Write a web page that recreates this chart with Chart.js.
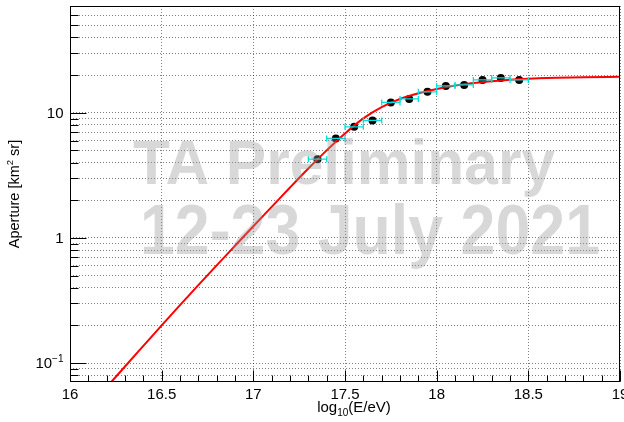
<!DOCTYPE html>
<html>
<head>
<meta charset="utf-8">
<script src="https://cdn.jsdelivr.net/npm/chart.js@4/dist/chart.umd.min.js"></script>
<style>
  html, body { margin: 0; padding: 0; background: #fff; }
  #wrap { width: 624px; height: 422px; }
</style>
</head>
<body>
<div id="wrap"><canvas id="aperture" width="624" height="422"></canvas></div>
<script>
// measured aperture points (log10 E, km^2 sr) with half bin width
const energy    = [17.35, 17.45, 17.55, 17.65, 17.75, 17.85, 17.95, 18.05, 18.15, 18.25, 18.35, 18.45];
const aperture  = [4.26, 6.24, 7.73, 8.69, 12.1, 12.9, 14.7, 16.4, 16.7, 18.3, 19.0, 18.3];
const energyErr = [0.05, 0.05, 0.05, 0.05, 0.05, 0.05, 0.05, 0.05, 0.05, 0.05, 0.05, 0.05];

// fit curve
const fitEnergy   = [16.2, 16.3, 16.4, 16.5, 16.6, 16.7, 16.8, 16.9, 17.0, 17.1, 17.2, 17.3, 17.4, 17.5,
                     17.6, 17.7, 17.8, 17.9, 18.0, 18.1, 18.2, 18.3, 18.4, 18.5, 18.6, 18.8, 19.0];
const fitAperture = [0.0641, 0.0938, 0.137, 0.200, 0.290, 0.419, 0.603, 0.865, 1.24, 1.77, 2.53, 3.59, 5.01, 6.84,
                     9.02, 11.1, 12.9, 14.3, 15.5, 16.5, 17.3, 17.9, 18.4, 18.75, 19.0, 19.2, 19.4];

// axes
const xMin = 16, xMax = 19;
const yMin = 0.0705, yMax = 71.4;
const xMajorTicks = [16, 16.5, 17, 17.5, 18, 18.5, 19];
const xTickLabels = ['16', '16.5', '17', '17.5', '18', '18.5', '19'];
const xMinorTicks = [16.1, 16.2, 16.3, 16.4, 16.6, 16.7, 16.8, 16.9, 17.1, 17.2, 17.3, 17.4, 17.6, 17.7, 17.8, 17.9,
                     18.1, 18.2, 18.3, 18.4, 18.6, 18.7, 18.8, 18.9];
const yMajorTicks = [0.1, 1, 10];
const yTickBase   = ['10', '1', '10'];
const yTickExp    = ['\u22121', '', ''];
const yGridTicks  = [0.08, 0.09, 0.1, 0.2, 0.3, 0.4, 0.5, 0.6, 0.7, 0.8, 0.9,
                     1, 2, 3, 4, 5, 6, 7, 8, 9, 10, 20, 30, 40, 50, 60];
const watermark   = ['TA Preliminary', '12-23 July 2021'];

const FONT = '"Liberation Sans", Arial, Helvetica, sans-serif';

// text with a raised or lowered small part: [[text, size, shift], ...]
function richWidth(ctx, parts) {
  let w = 0;
  parts.forEach(p => { ctx.font = `${p[1]}px ${FONT}`; w += ctx.measureText(p[0]).width; });
  return w;
}
function drawRich(ctx, parts, x, y) {
  let cx = x;
  parts.forEach(p => {
    ctx.font = `${p[1]}px ${FONT}`;
    ctx.fillText(p[0], cx, y + p[2]);
    cx += ctx.measureText(p[0]).width;
  });
}

function drawFitted(ctx, text, left, right, capTop, baseline) {
  const size = (baseline - capTop) / 0.716;
  ctx.font = `bold ${size}px ${FONT}`;
  const w = ctx.measureText(text).width;
  ctx.save();
  ctx.translate(left, baseline);
  ctx.scale((right - left) / w, 1);
  ctx.fillText(text, 0, 0);
  ctx.restore();
}

const rootStyle = {
  id: 'rootStyle',
  afterDatasetsDraw(chart) {
    const ctx = chart.ctx;
    const xs = chart.scales.x, ys = chart.scales.y;

    // horizontal error bars
    ctx.save();
    ctx.strokeStyle = '#00e0e0';
    ctx.lineWidth = 1.3;
    energy.forEach((e, i) => {
      const y = ys.getPixelForValue(aperture[i]);
      const x0 = xs.getPixelForValue(e - energyErr[i]);
      const x1 = xs.getPixelForValue(e + energyErr[i]);
      ctx.beginPath();
      ctx.moveTo(x0, y); ctx.lineTo(x1, y);
      ctx.moveTo(x0, y - 3); ctx.lineTo(x0, y + 3);
      ctx.moveTo(x1, y - 3); ctx.lineTo(x1, y + 3);
      ctx.stroke();
    });
    ctx.restore();

    // watermark
    ctx.save();
    ctx.fillStyle = 'rgba(150, 150, 150, 0.37)';
    ctx.textBaseline = 'alphabetic';
    drawFitted(ctx, watermark[0], 133, 555, 139, 184);
    drawFitted(ctx, watermark[1], 140, 600, 204, 254);
    ctx.restore();
  },
  afterDraw(chart) {
    const ctx = chart.ctx;
    const a = chart.chartArea;
    const xs = chart.scales.x, ys = chart.scales.y;
    ctx.save();
    ctx.strokeStyle = '#000';
    ctx.fillStyle = '#000';
    ctx.lineWidth = 1;

    // frame
    ctx.strokeRect(Math.round(a.left) + 0.5, Math.round(a.top) + 0.5,
                   Math.round(a.right - a.left) - 1, Math.round(a.bottom - a.top) - 1);

    // inward ticks
    const bottom = Math.round(a.bottom) - 0.5, left = Math.round(a.left) + 0.5;
    ctx.beginPath();
    xMajorTicks.forEach(v => { const x = Math.round(xs.getPixelForValue(v)) + 0.5; ctx.moveTo(x, bottom); ctx.lineTo(x, bottom - 11); });
    xMinorTicks.forEach(v => { const x = Math.round(xs.getPixelForValue(v)) + 0.5; ctx.moveTo(x, bottom); ctx.lineTo(x, bottom - 6); });
    yGridTicks.forEach(v => {
      const y = Math.round(ys.getPixelForValue(v)) + 0.5;
      const len = yMajorTicks.includes(v) ? 16 : 8;
      ctx.moveTo(left, y); ctx.lineTo(left + len, y);
    });
    ctx.stroke();

    // x tick labels
    ctx.textAlign = 'center';
    ctx.textBaseline = 'alphabetic';
    ctx.font = `15px ${FONT}`;
    xMajorTicks.forEach((v, i) => ctx.fillText(xTickLabels[i], xs.getPixelForValue(v), 399));

    // y tick labels (right aligned, with exponent)
    ctx.textAlign = 'left';
    yMajorTicks.forEach((v, i) => {
      const y = ys.getPixelForValue(v) + 5.3;
      const parts = [[yTickBase[i], 15, 0]];
      if (yTickExp[i]) parts.push([yTickExp[i], 10, -6]);
      const w = richWidth(ctx, parts);
      drawRich(ctx, parts, 63.5 - w, y);
    });

    // x title
    const xt = [['log', 15, 0], ['10', 10, 4], ['(E/eV)', 15, 0]];
    drawRich(ctx, xt, 354 - richWidth(ctx, xt) / 2, 412);

    // y title
    const yt = [['Aperture [km', 14.5, 0], ['2', 9.5, -6], [' sr]', 14.5, 0]];
    ctx.translate(19, (a.top + a.bottom) / 2);
    ctx.rotate(-Math.PI / 2);
    drawRich(ctx, yt, -richWidth(ctx, yt) / 2, 0);
    ctx.restore();
  }
};

const gridStyle = { color: 'rgba(0, 0, 0, 0.5)', lineWidth: 1, drawTicks: false, tickLength: 0 };

new Chart(document.getElementById('aperture'), {
  data: {
    datasets: [
      {
        type: 'line',
        label: 'fit',
        data: fitEnergy.map((e, i) => ({ x: e, y: fitAperture[i] })),
        borderColor: '#ff0000',
        borderWidth: 2,
        pointRadius: 0,
        fill: false,
        cubicInterpolationMode: 'monotone'
      },
      {
        type: 'scatter',
        label: 'aperture',
        data: energy.map((e, i) => ({ x: e, y: aperture[i] })),
        backgroundColor: '#000',
        borderColor: '#000',
        pointRadius: 4,
        pointBorderWidth: 0
      }
    ]
  },
  options: {
    responsive: false,
    animation: false,
    events: [],
    layout: { padding: { left: 70, top: 6, right: 2, bottom: 40 } },
    plugins: { legend: { display: false }, tooltip: { enabled: false } },
    scales: {
      x: {
        type: 'linear',
        min: xMin,
        max: xMax,
        afterBuildTicks: s => { s.ticks = xMajorTicks.map(v => ({ value: v })); },
        afterFit: s => { s.height = 0; },
        ticks: { display: false },
        grid: gridStyle,
        border: { display: false, dash: [1, 2] }
      },
      y: {
        type: 'logarithmic',
        min: yMin,
        max: yMax,
        afterBuildTicks: s => { s.ticks = yGridTicks.map(v => ({ value: v })); },
        afterFit: s => { s.width = 0; },
        ticks: { display: false },
        grid: gridStyle,
        border: { display: false, dash: [1, 2] }
      }
    }
  },
  plugins: [rootStyle]
});
</script>
</body>
</html>
